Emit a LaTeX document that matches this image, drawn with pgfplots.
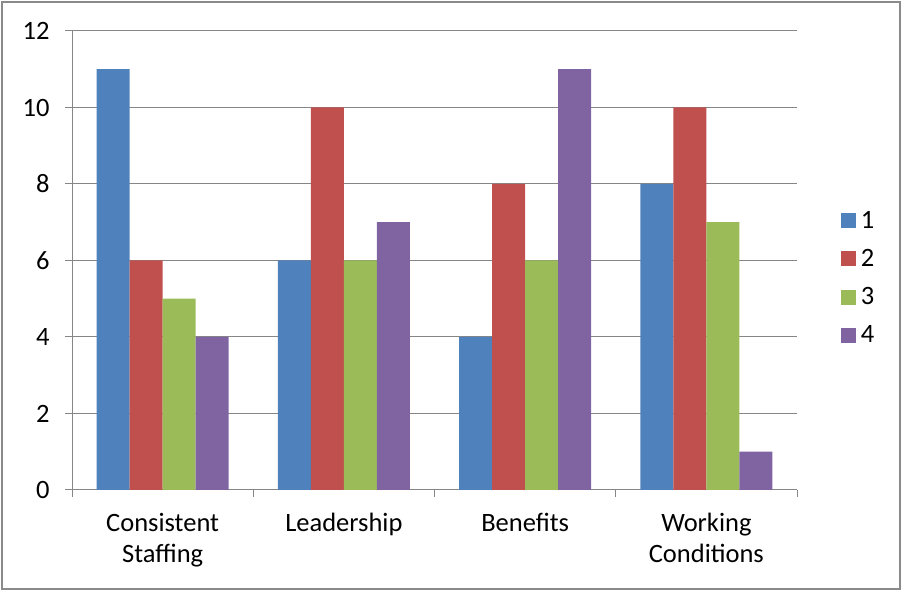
\documentclass[border=0pt]{standalone}
\usepackage{pgfplots}
\pgfplotsset{compat=1.18}
\usepackage{fontspec}
\setmainfont{Carlito}
\definecolor{cblue}{HTML}{4F81BD}
\definecolor{cred}{HTML}{C0504D}
\definecolor{cgreen}{HTML}{9BBB59}
\definecolor{cpurple}{HTML}{8064A2}
\definecolor{axgray}{HTML}{868686}
\definecolor{bordergray}{HTML}{8A8A8A}
\begin{document}
\begin{tikzpicture}[x=1pt,y=1pt]
\useasboundingbox (0,0) rectangle (902,591);
\draw[bordergray, line width=1.5pt] (2,2) rectangle (900,589);
\begin{axis}[
  at={(72pt,101pt)}, anchor=south west,
  scale only axis, width=725pt, height=459pt,
  ybar=0pt, bar width=33pt,
  xmin=-0.5, xmax=3.5, ymin=0, ymax=12,
  enlargelimits=false,
  axis x line*=bottom, axis y line*=left,
  axis line style={-, draw=axgray, line width=1pt},
  ymajorgrids, grid style={draw=axgray, line width=1pt},
  ytick={0,2,...,12},
  xtick={-0.5,0.5,1.5,2.5,3.5}, xticklabels={},
  extra x ticks={0,1,2,3},
  extra x tick labels={Consistent\\Staffing, Leadership, Benefits, Working\\Conditions},
  extra x tick style={major tick length=0pt, xticklabel style={align=center, yshift=-20pt}},
  tick align=outside, major tick length=7pt,
  tick style={draw=axgray, line width=1pt},
  font=\fontsize{26.5}{31}\selectfont,
  ticklabel style={font=\fontsize{26.5}{31}\selectfont},
  /pgf/number format/assume math mode=true,
  yticklabel style={xshift=-12pt},
  legend style={draw=none, fill=none, at={(1.056,0.462)}, anchor=west,
    font=\fontsize{26.5}{31}\selectfont, row sep=15.5pt,
    /tikz/every even column/.append style={column sep=0pt},
    nodes={inner sep=2pt}},
  legend cell align=left,
  legend image code/.code={\fill[#1,draw=none] (0pt,-7.5pt) rectangle (15pt,7.5pt);},
]
\addplot[fill=cblue, draw=none] coordinates {(0,11) (1,6) (2,4) (3,8)};
\addplot[fill=cred, draw=none] coordinates {(0,6) (1,10) (2,8) (3,10)};
\addplot[fill=cgreen, draw=none] coordinates {(0,5) (1,6) (2,6) (3,7)};
\addplot[fill=cpurple, draw=none] coordinates {(0,4) (1,7) (2,11) (3,1)};
\legend{\hspace{3pt}1,\hspace{3pt}2,\hspace{3pt}3,\hspace{3pt}4}
\end{axis}
\end{tikzpicture}
\end{document}
